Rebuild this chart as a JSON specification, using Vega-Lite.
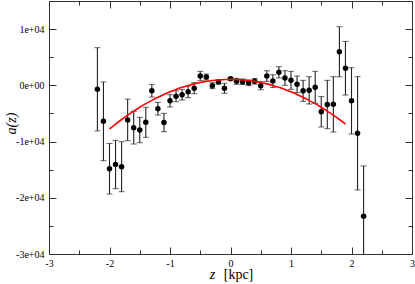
{
  "$schema": "https://vega.github.io/schema/vega-lite/v6.json",
  "width": 363,
  "height": 253,
  "autosize": {"type": "none"},
  "padding": {"left": 49, "top": 1, "right": 3, "bottom": 30},
  "background": "white",
  "config": {
    "view": {"stroke": "#333", "strokeWidth": 1},
    "font": "Liberation Serif",
    "axis": {"grid": false, "domain": false, "tickColor": "#333", "labelFont": "Liberation Serif", "titleFont": "Liberation Serif", "labelColor": "black", "titleColor": "black", "titleFontWeight": "normal", "labelFontSize": 10}
  },
  "datasets": {
    "pts": [
      {"z": -2.2, "a": -700, "err": 7400},
      {"z": -2.1, "a": -6400, "err": 7000},
      {"z": -2.0, "a": -14830, "err": 4500},
      {"z": -1.9, "a": -14080, "err": 4300},
      {"z": -1.8, "a": -14470, "err": 4450},
      {"z": -1.7, "a": -6150, "err": 3700},
      {"z": -1.6, "a": -7540, "err": 2900},
      {"z": -1.5, "a": -7950, "err": 2260},
      {"z": -1.4, "a": -6580, "err": 2670},
      {"z": -1.3, "a": -960, "err": 1130},
      {"z": -1.2, "a": -4160, "err": 1130},
      {"z": -1.1, "a": -6610, "err": 1630},
      {"z": -1.0, "a": -2760, "err": 1100},
      {"z": -0.9, "a": -1940, "err": 980},
      {"z": -0.8, "a": -1670, "err": 950},
      {"z": -0.7, "a": -1160, "err": 1040},
      {"z": -0.6, "a": -510, "err": 980},
      {"z": -0.5, "a": 1650, "err": 830},
      {"z": -0.4, "a": 1480, "err": 530},
      {"z": -0.3, "a": -70, "err": 530},
      {"z": -0.2, "a": 590, "err": 360},
      {"z": -0.1, "a": -530, "err": 890},
      {"z": 0.0, "a": 1170, "err": 240},
      {"z": 0.1, "a": 710, "err": 530},
      {"z": 0.2, "a": 640, "err": 500},
      {"z": 0.3, "a": 460, "err": 500},
      {"z": 0.4, "a": 710, "err": 500},
      {"z": 0.5, "a": -70, "err": 710},
      {"z": 0.6, "a": 1650, "err": 940},
      {"z": 0.7, "a": 760, "err": 1130},
      {"z": 0.8, "a": 2310, "err": 1000},
      {"z": 0.9, "a": 1300, "err": 1300},
      {"z": 1.0, "a": 890, "err": 1600},
      {"z": 1.1, "a": 180, "err": 1480},
      {"z": 1.2, "a": -980, "err": 1870},
      {"z": 1.3, "a": -890, "err": 2430},
      {"z": 1.4, "a": -360, "err": 2850},
      {"z": 1.5, "a": -4710, "err": 2700},
      {"z": 1.6, "a": -3410, "err": 4300},
      {"z": 1.7, "a": -3380, "err": 4920},
      {"z": 1.8, "a": 5970, "err": 4450},
      {"z": 1.9, "a": 3040, "err": 4770},
      {"z": 2.0, "a": -2760, "err": 5900},
      {"z": 2.1, "a": -8530, "err": 10080},
      {"z": 2.2, "a": -23290, "err": 8950}
    ],
    "fit": [
      {"z": -2.0, "a": -7750}, {"z": -1.9, "a": -6892}, {"z": -1.8, "a": -6078}, {"z": -1.7, "a": -5308},
      {"z": -1.6, "a": -4582}, {"z": -1.5, "a": -3900}, {"z": -1.4, "a": -3262}, {"z": -1.3, "a": -2668},
      {"z": -1.2, "a": -2118}, {"z": -1.1, "a": -1612}, {"z": -1.0, "a": -1150}, {"z": -0.9, "a": -732},
      {"z": -0.8, "a": -358}, {"z": -0.7, "a": -28}, {"z": -0.6, "a": 258}, {"z": -0.5, "a": 500},
      {"z": -0.4, "a": 698}, {"z": -0.3, "a": 852}, {"z": -0.2, "a": 962}, {"z": -0.1, "a": 1028},
      {"z": 0.0, "a": 1050}, {"z": 0.1, "a": 1028}, {"z": 0.2, "a": 962}, {"z": 0.3, "a": 852},
      {"z": 0.4, "a": 698}, {"z": 0.5, "a": 500}, {"z": 0.6, "a": 258}, {"z": 0.7, "a": -28},
      {"z": 0.8, "a": -358}, {"z": 0.9, "a": -732}, {"z": 1.0, "a": -1150}, {"z": 1.1, "a": -1612},
      {"z": 1.2, "a": -2118}, {"z": 1.3, "a": -2668}, {"z": 1.4, "a": -3262}, {"z": 1.5, "a": -3900},
      {"z": 1.6, "a": -4582}, {"z": 1.7, "a": -5308}, {"z": 1.8, "a": -6078}, {"z": 1.9, "a": -6892}
    ]
  },
  "resolve": {"axis": {"x": "independent", "y": "independent"}},
  "layer": [
    {
      "data": {"name": "pts"},
      "mark": {"type": "errorbar", "clip": true, "ticks": {"size": 6, "color": "#222", "strokeWidth": 1.1}, "rule": {"color": "#222", "strokeWidth": 1.1}},
      "encoding": {
        "x": {"field": "z", "type": "quantitative",
          "scale": {"domain": [-3, 3], "nice": false, "zero": false},
          "axis": {"orient": "bottom", "values": [-3, -2.5, -2, -1.5, -1, -0.5, 0, 0.5, 1, 1.5, 2, 2.5, 3],
            "tickSize": {"condition": {"test": "datum.value % 1 === 0", "value": -7}, "value": -4},
            "labelPadding": 11, "labelExpr": "datum.value % 1 === 0 ? '' + datum.value : ''",
            "labelFlush": false, "labelOverlap": false,
            "title": "[kpc]", "titleFontSize": 14, "titleX": 189, "titleY": 24, "titleBaseline": "alphabetic", "titleAlign": "center"}},
        "y": {"field": "a", "type": "quantitative",
          "scale": {"domain": [-30000, 15000], "nice": false, "zero": false},
          "axis": {"orient": "left", "values": [-30000, -25000, -20000, -15000, -10000, -5000, 0, 5000, 10000, 15000],
            "tickSize": {"condition": {"test": "datum.value % 10000 === 0", "value": -7}, "value": -4},
            "labelPadding": 12, "labelExpr": "datum.value % 10000 !== 0 ? '' : (datum.value === 0 ? '0e+00' : (datum.value / 10000) + 'e+04')",
            "labelFlush": false, "labelOverlap": false,
            "title": "a(z)", "titleFontSize": 14, "titleFontStyle": "italic", "titleAngle": -90, "titleX": -34, "titleY": 122, "titleBaseline": "alphabetic", "titleAlign": "center"}},
        "yError": {"field": "err"}
      }
    },
    {
      "data": {"name": "pts"},
      "mark": {"type": "point", "filled": true, "color": "black", "size": 30, "opacity": 1},
      "encoding": {
        "x": {"field": "z", "type": "quantitative",
          "axis": {"orient": "top", "values": [-3, -2.5, -2, -1.5, -1, -0.5, 0, 0.5, 1, 1.5, 2, 2.5, 3],
            "tickSize": {"condition": {"test": "datum.value % 1 === 0", "value": -7}, "value": -4},
            "labels": false,
            "title": "z", "titleFontSize": 14, "titleFontStyle": "italic", "titleX": 163, "titleY": 277, "titleBaseline": "alphabetic", "titleAlign": "center"}},
        "y": {"field": "a", "type": "quantitative",
          "axis": {"orient": "right", "values": [-30000, -25000, -20000, -15000, -10000, -5000, 0, 5000, 10000, 15000],
            "tickSize": {"condition": {"test": "datum.value % 10000 === 0", "value": -7}, "value": -4},
            "labels": false, "title": null}}
      }
    },
    {
      "data": {"name": "fit"},
      "mark": {"type": "line", "color": "#ff0000", "strokeWidth": 1.6, "interpolate": "monotone"},
      "encoding": {
        "x": {"field": "z", "type": "quantitative", "axis": null},
        "y": {"field": "a", "type": "quantitative", "axis": null}
      }
    }
  ]
}
